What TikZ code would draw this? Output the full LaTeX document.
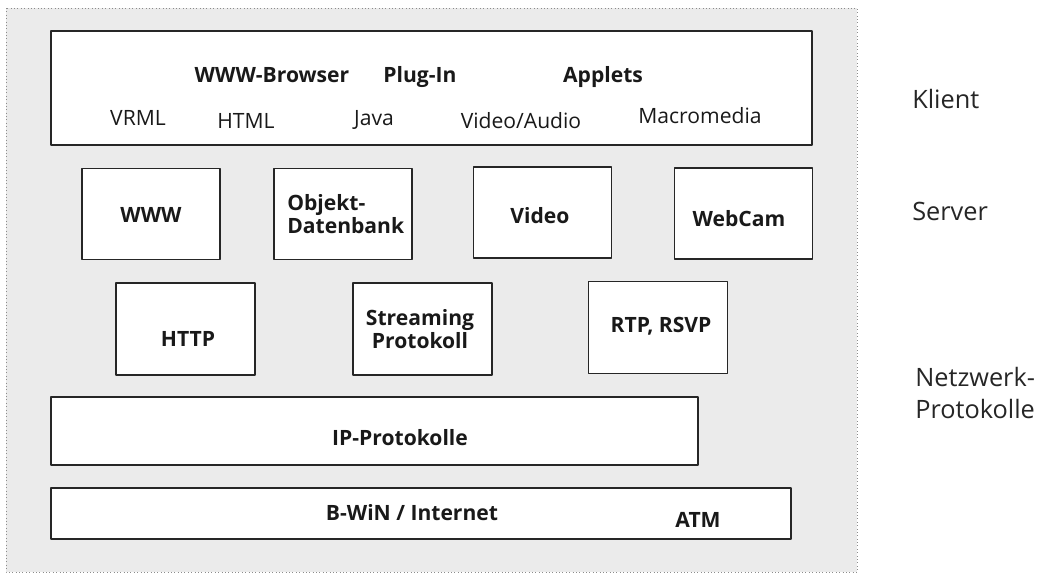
\documentclass[tikz,border=0pt]{standalone}
\usepackage{fontspec}
\setmainfont{Open Sans}

\begin{document}
\begin{tikzpicture}[x=0.025cm, y=-0.025cm, line join=round,
    panel/.style={fill=black!8, draw=black!45, dotted},
    layer/.style 2 args={draw=black!85, fill=white, line width=1.1pt,
        inner sep=0pt, minimum width=#1*0.025cm, minimum height=#2*0.025cm},
    boxtext/.style={font=\fontsize{15}{16}\selectfont\bfseries, text=black!90, inner sep=0pt},
    plaintext/.style={font=\fontsize{15}{16}\selectfont, text=black!90, inner sep=0pt},
    side/.style={font=\fontsize{18}{22.5}\selectfont, text=black!85, inner sep=0pt, align=left}]

    % Page and shaded panel
    \useasboundingbox[fill=white] (0,0) rectangle (1055,574);
    \draw[panel] (6,8) rectangle (857,572);

    % Client layer
    \node[layer={761}{114}] (klient) at (431.5,88) {};
    \foreach \n/\x/\y/\t in {
        browser/272/82/WWW-Browser,
        plugin/420/82/Plug-In,
        applets/603/82/Applets
    }{
        \node[boxtext, anchor=base] (\n) at (\x,\y) {\t};
    }
    \foreach \n/\x/\y/\t in {
        vrml/138/125/VRML,
        html/246/128/HTML,
        java/374/125/Java,
        av/521/128/{Video/Audio},
        macro/700/123/Macromedia
    }{
        \node[plaintext, anchor=base] (\n) at (\x,\y) {\t};
    }

    % Server layer
    \foreach \n/\x/\y in {
        www/151/214,
        odb/343/214,
        video/542.5/212.5,
        webcam/743.5/213.5
    }{
        \node[layer={138}{91}] (\n) at (\x,\y) {};
    }
    \node[boxtext, anchor=base] (wwwtext) at (151,222) {WWW};
    \node[boxtext, anchor=west, align=left] (odbtext) at (287,214) {Objekt-\\Datenbank};
    \node[boxtext, anchor=base] (videotext) at (540,223) {Video};
    \node[boxtext, anchor=base] (webcamtext) at (739,226) {WebCam};

    % Protocol layer
    \foreach \n/\x/\y in {
        http/185.5/329,
        stream/422.5/329,
        rtp/658/327.5
    }{
        \node[layer={139}{92}] (\n) at (\x,\y) {};
    }
    \node[boxtext, anchor=base] (httptext) at (188,346) {HTTP};
    \node[boxtext, align=center] (streamtext) at (420,329) {Streaming\\Protokoll};
    \node[boxtext, anchor=base] (rtptext) at (661,332) {RTP, RSVP};

    % Network layers
    \node[layer={647}{68}] (ip) at (374.5,431) {};
    \node[boxtext, anchor=base] (iptext) at (400,445) {IP-Protokolle};
    \node[layer={740}{51}] (bwin) at (421,513.5) {};
    \node[boxtext, anchor=base] (bwintext) at (412,520) {B-WiN / Internet};
    \node[boxtext, anchor=base] (atmtext) at (698,527) {ATM};

    % Side labels
    \node[side, anchor=base west] (lklient) at (912,108) {Klient};
    \node[side, anchor=base west] (lserver) at (912,220) {Server};
    \node[side, anchor=west] (lnetz) at (915,393) {Netzwerk-\\Protokolle};

\end{tikzpicture}
\end{document}
